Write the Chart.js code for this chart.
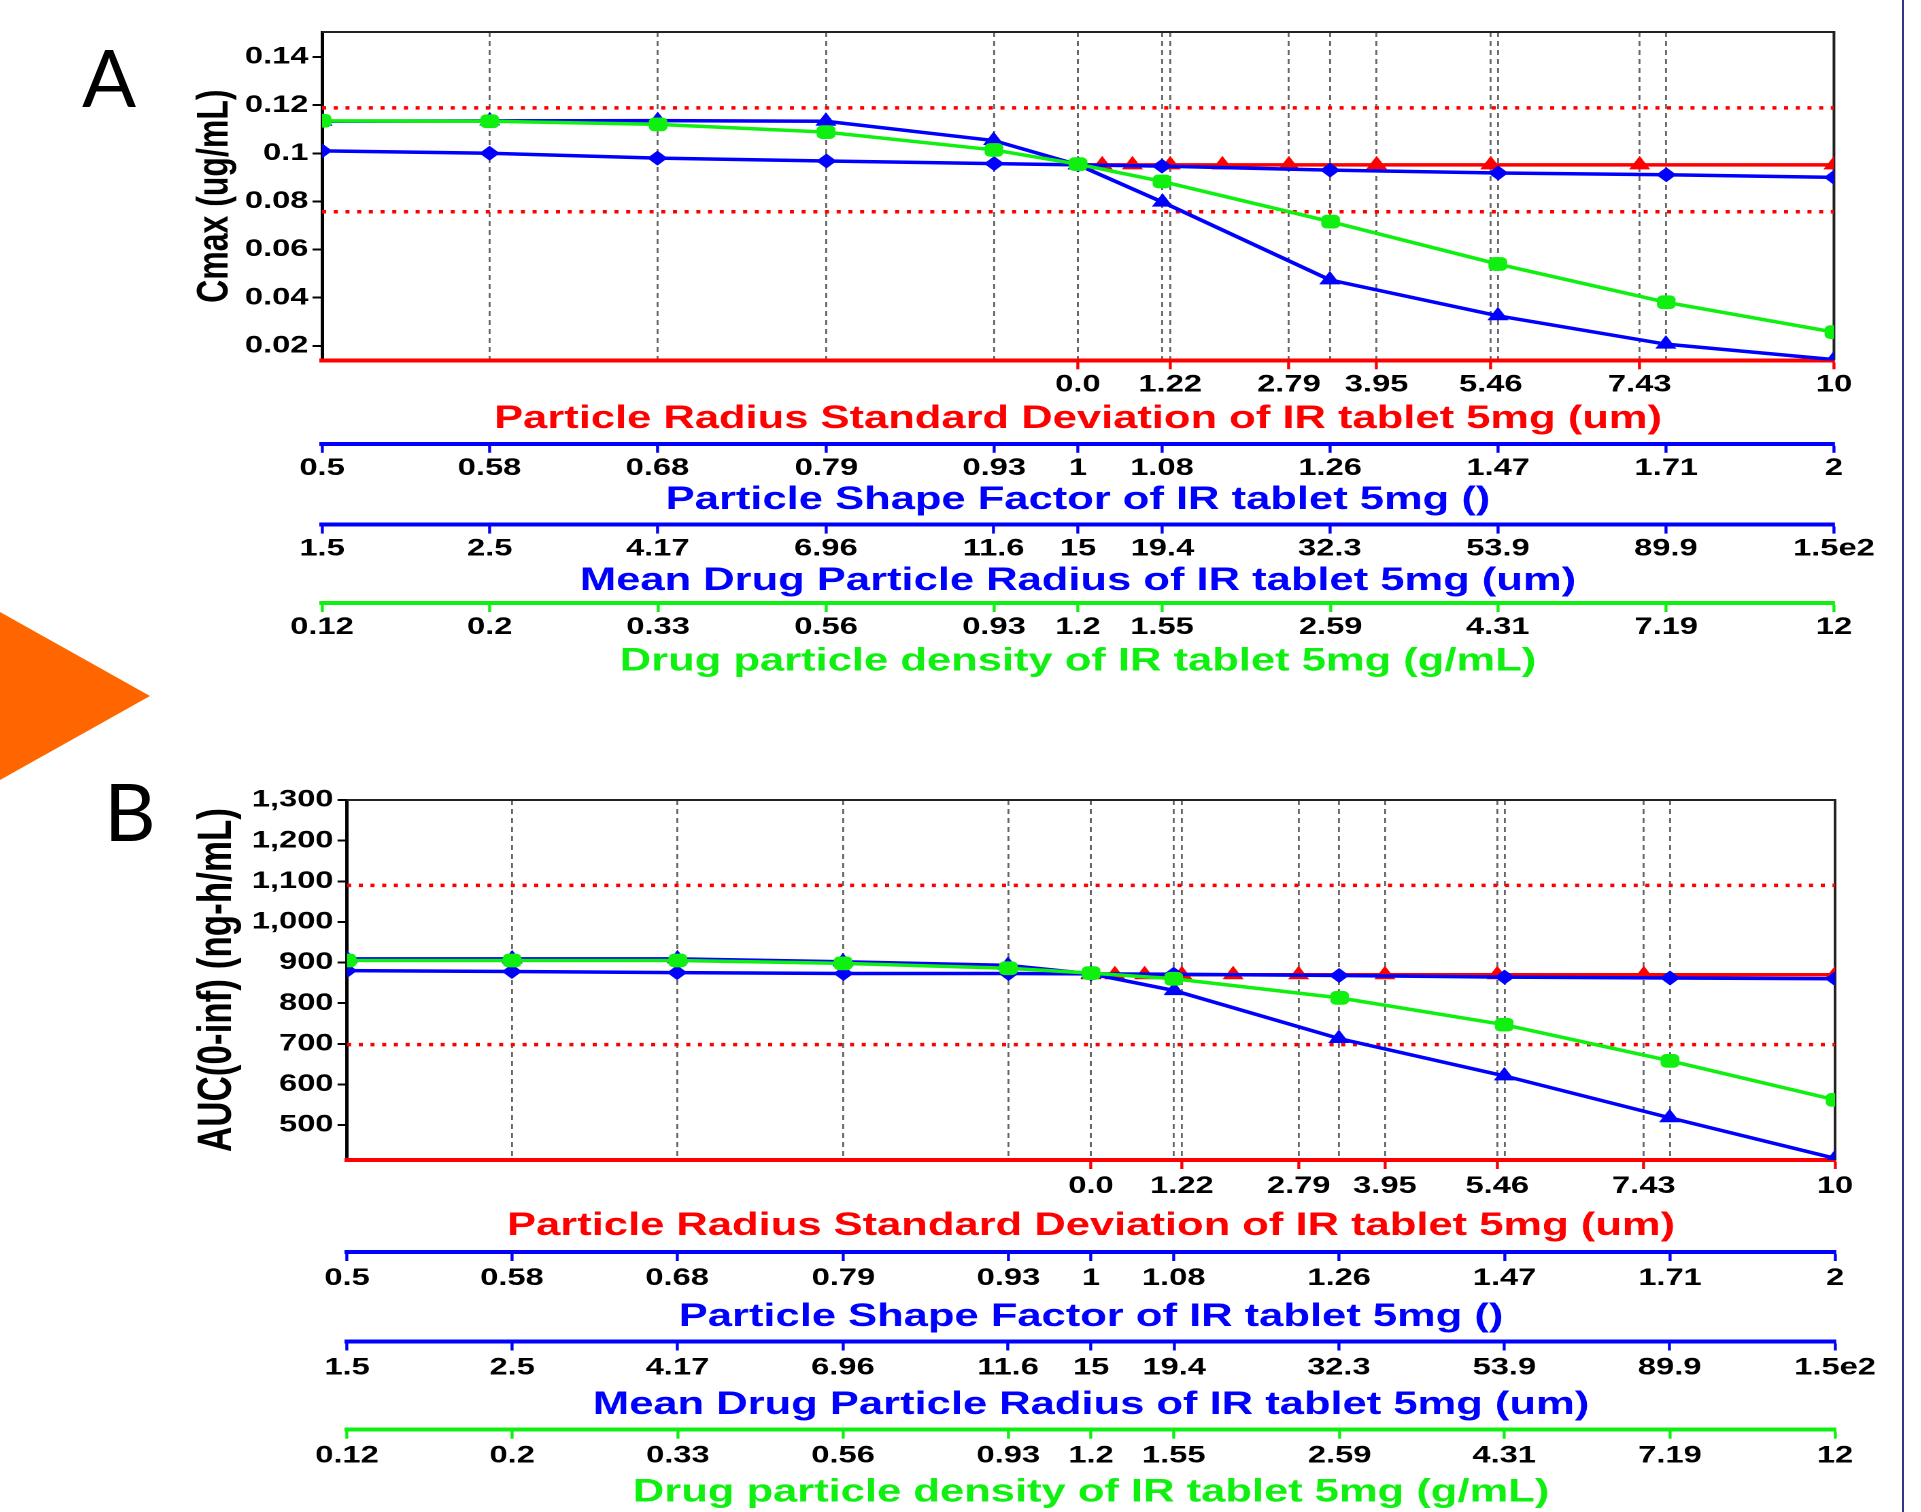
<!DOCTYPE html>
<html>
<head>
<meta charset="utf-8">
<title>Cmax and AUC sensitivity</title>
<script src="https://cdn.jsdelivr.net/npm/chart.js@4.4.1/dist/chart.umd.min.js"></script>
<style>
    html, body { margin: 0; padding: 0; background: #fff; }
    body { width: 1921px; height: 1512px; position: relative; overflow: hidden; }
    .panel-label { position: absolute; font-family: Lato, 'Open Sans', sans-serif; font-size: 80px; line-height: 1; color: #000; }
    /* the source figure is a horizontally stretched screenshot */
    .stretch { position: absolute; left: 150px; transform: scaleX(1.36); transform-origin: 0 0; }
    #arrow { position: absolute; left: 0; top: 612px; width: 150px; height: 168px; background: #ff6600;
             clip-path: polygon(0 0, 100% 50%, 0 100%); }
    #edge { position: absolute; left: 1902px; top: 0; width: 2px; height: 1512px; background: #35378a; }
</style>
</head>
<body>
<div class="panel-label" style="left:82px; top:36px;">A</div>
<div class="panel-label" style="left:104px; top:770px;">B</div>
<div id="arrow"></div>
<div id="edge"></div>
<div class="stretch" style="top:0;"><canvas id="chartA" width="1302" height="700"></canvas></div>
<div class="stretch" style="top:760px;"><canvas id="chartB" width="1302" height="752"></canvas></div>

<script>
const FONT = "'Liberation Sans', Arial, sans-serif";
const RED = '#ff0000';
const BLUE = '#0000ff';
const GREEN = '#10f010';

// x values of the simulated points (same for both panels)
const sdX = [0, 0.32, 0.72, 1.22, 1.91, 2.79, 3.95, 5.46, 7.43, 10];
const shapeX = [0.5, 0.583, 0.68, 0.794, 0.926, 1, 1.08, 1.26, 1.47, 1.715, 2];
const radiusX = [1.5, 2.5, 4.17, 6.96, 11.6, 15, 19.4, 32.3, 53.9, 89.9, 150];
const densityX = [0.12, 0.2, 0.334, 0.557, 0.929, 1.2, 1.55, 2.59, 4.31, 7.2, 12];

// ticks of the four x axes
const sdTicks = [0, 1.22, 2.79, 3.95, 5.46, 7.43, 10];
const sdTickLabels = ['0.0', '1.22', '2.79', '3.95', '5.46', '7.43', '10'];
const shapeTickLabels = ['0.5', '0.58', '0.68', '0.79', '0.93', '1', '1.08', '1.26', '1.47', '1.71', '2'];
const radiusTickLabels = ['1.5', '2.5', '4.17', '6.96', '11.6', '15', '19.4', '32.3', '53.9', '89.9', '1.5e2'];
const densityTickLabels = ['0.12', '0.2', '0.33', '0.56', '0.93', '1.2', '1.55', '2.59', '4.31', '7.19', '12'];

const sdTitle = 'Particle Radius Standard Deviation of IR tablet 5mg (um)';
const shapeTitle = 'Particle Shape Factor of IR tablet 5mg ()';
const radiusTitle = 'Mean Drug Particle Radius of IR tablet 5mg (um)';
const densityTitle = 'Drug particle density of IR tablet 5mg (g/mL)';

// panel A - Cmax
const cmaxTicks = [0.02, 0.04, 0.06, 0.08, 0.1, 0.12, 0.14];
const cmaxSD = [0.0952, 0.0952, 0.0952, 0.0952, 0.0952, 0.0952, 0.0952, 0.0952, 0.0952, 0.0952];
const cmaxShape = [0.1010, 0.1000, 0.0980, 0.0968, 0.0957, 0.0952, 0.0947, 0.0930, 0.0918, 0.0911, 0.0900];
const cmaxRadius = [0.1133, 0.1135, 0.1136, 0.1133, 0.1053, 0.0952, 0.0797, 0.0474, 0.0325, 0.0207, 0.0143];
const cmaxDensity = [0.1135, 0.1133, 0.1120, 0.1088, 0.1014, 0.0955, 0.0883, 0.0716, 0.0540, 0.0381, 0.0257];
const cmaxLimits = [0.0757, 0.1189];

// panel B - AUC(0-inf)
const aucTicks = [500, 600, 700, 800, 900, 1000, 1100, 1200, 1300];
const aucSD = [870, 870, 870, 870, 870, 870, 870, 870, 870, 870];
const aucShape = [880, 878, 875, 873, 873, 872, 871, 868, 864, 862, 860];
const aucRadius = [909, 909, 909, 902, 893, 872, 831, 713, 621, 518, 418];
const aucDensity = [905, 905, 905, 898, 886, 874, 860, 813, 747, 658, 562];
const aucLimits = [698, 1090];

function points(xs, ys) {
    return xs.map((x, i) => ({ x: x, y: ys[i] }));
}

function series(xs, ys, axis, color, style, radius, order) {
    return {
        data: points(xs, ys),
        xAxisID: axis,
        borderColor: color,
        backgroundColor: color,
        borderWidth: 3.5,
        pointStyle: style,
        pointRadius: radius,
        pointBorderWidth: 0,
        pointBackgroundColor: color,
        tension: 0,
        order: order
    };
}

function limitLine(value) {
    return {
        data: [{ x: -10, y: value }, { x: 10, y: value }],
        xAxisID: 'sd',
        borderColor: RED,
        borderWidth: 3.5,
        borderDash: [3, 5.6],
        pointRadius: 0,
        order: 10
    };
}

function xAxis(o) {
    return {
        type: o.type,
        position: 'bottom',
        weight: o.weight,
        min: o.min,
        max: o.max,
        bounds: 'data',
        afterBuildTicks: s => { s.ticks = o.ticks.map(v => ({ value: v })); },
        afterFit: s => { s.height = o.height; },
        ticks: {
            autoSkip: false,
            maxRotation: 0,
            minRotation: 0,
            padding: o.labelPad,
            color: '#000',
            font: { family: FONT, size: 24, weight: 'bold' },
            callback: (v, i) => o.labels[i]
        },
        grid: {
            drawOnChartArea: o.grid,
            color: '#666',
            lineWidth: 1.4,
            tickLength: 9,
            tickColor: o.color,
            tickWidth: 2.2
        },
        border: { color: o.color, width: 4, dash: [5, 4] },
        title: {
            display: true,
            text: o.title,
            color: o.color,
            font: { family: FONT, size: 32, weight: 'bold' },
            padding: { top: 0, bottom: o.titlePad }
        }
    };
}

function yAxis(o) {
    return {
        type: 'linear',
        position: 'left',
        min: o.min,
        max: o.max,
        bounds: 'data',
        afterBuildTicks: s => { s.ticks = o.ticks.map(v => ({ value: v })); },
        afterFit: s => { s.width = o.width; },
        ticks: {
            padding: 3,
            color: '#000',
            font: { family: FONT, size: 24, weight: 'bold' },
            callback: o.format
        },
        grid: { drawOnChartArea: false, tickLength: 7, tickColor: '#000', tickWidth: 2 },
        border: { color: '#000', width: 2.5 },
        title: {
            display: true,
            text: o.title,
            color: '#000',
            font: { family: FONT, size: o.titleSize, weight: 'bold' },
            padding: { top: o.titlePad, bottom: 0 }
        }
    };
}

// top and right edge of the plot box
const frame = {
    id: 'frame',
    beforeDatasetsDraw(chart) {
        const { ctx, chartArea: a } = chart;
        ctx.save();
        ctx.strokeStyle = '#222';
        ctx.lineWidth = 2;
        ctx.beginPath();
        ctx.moveTo(a.left, a.top);
        ctx.lineTo(a.right, a.top);
        ctx.lineTo(a.right, a.bottom);
        ctx.stroke();
        ctx.restore();
    }
};

function buildPanel(id, p) {
    return new Chart(document.getElementById(id), {
        type: 'line',
        data: {
            datasets: [
                series(densityX, p.density, 'density', GREEN, 'rectRounded', 8, 1),
                series(radiusX, p.radius, 'radius', BLUE, 'triangle', 9, 2),
                series(shapeX, p.shape, 'shape', BLUE, 'rectRot', 7.5, 3),
                series(sdX, p.sd, 'sd', RED, 'triangle', 9, 4),
                limitLine(p.limits[0]),
                limitLine(p.limits[1])
            ]
        },
        options: {
            responsive: false,
            animation: false,
            devicePixelRatio: 2,
            layout: { padding: p.padding },
            plugins: { legend: { display: false }, tooltip: { enabled: false } },
            scales: {
                y: yAxis(p.y),
                sd: xAxis({ type: 'linear', weight: 1, min: -10, max: 10, ticks: sdTicks, labels: sdTickLabels,
                    color: RED, title: sdTitle, grid: true, height: p.h[0], titlePad: p.tp[0], labelPad: p.labelPad }),
                shape: xAxis({ type: 'logarithmic', weight: 2, min: 0.5, max: 2, ticks: shapeX, labels: shapeTickLabels,
                    color: BLUE, title: shapeTitle, grid: true, height: p.h[1], titlePad: p.tp[1], labelPad: p.labelPad }),
                radius: xAxis({ type: 'logarithmic', weight: 3, min: 1.5, max: 150, ticks: radiusX, labels: radiusTickLabels,
                    color: BLUE, title: radiusTitle, grid: false, height: p.h[2], titlePad: p.tp[2], labelPad: p.labelPad }),
                density: xAxis({ type: 'logarithmic', weight: 4, min: 0.12, max: 12, ticks: densityX, labels: densityTickLabels,
                    color: GREEN, title: densityTitle, grid: false, height: p.h[3], titlePad: p.tp[3], labelPad: p.labelPad })
            }
        },
        plugins: [frame]
    });
}

document.addEventListener('DOMContentLoaded', () => {
    buildPanel('chartA', {
        sd: cmaxSD, shape: cmaxShape, radius: cmaxRadius, density: cmaxDensity, limits: cmaxLimits,
        y: { min: 0.014, max: 0.1504, ticks: cmaxTicks, format: v => String(+v.toFixed(2)),
             title: 'Cmax (ug/mL)', titleSize: 32, width: 126.5, titlePad: 29 },
        padding: { top: 32, right: 63.8, bottom: 17, left: 0 },
        h: [83.5, 80.8, 78.4, 80],
        tp: [5.3, 5.3, 2.8, 2],
        labelPad: 1
    });

    buildPanel('chartB', {
        sd: aucSD, shape: aucShape, radius: aucRadius, density: aucDensity, limits: aucLimits,
        y: { min: 414, max: 1300, ticks: aucTicks, format: v => v.toLocaleString('en-US'),
             title: 'AUC(0-inf) (ng-h/mL)', titleSize: 35, width: 144.9, titlePad: 29 },
        padding: { top: 40, right: 63, bottom: 0, left: 0 },
        h: [92, 89.5, 88.2, 82.3],
        tp: [6.8, 5.3, 5.5, 0],
        labelPad: 3
    });
});
</script>
</body>
</html>
